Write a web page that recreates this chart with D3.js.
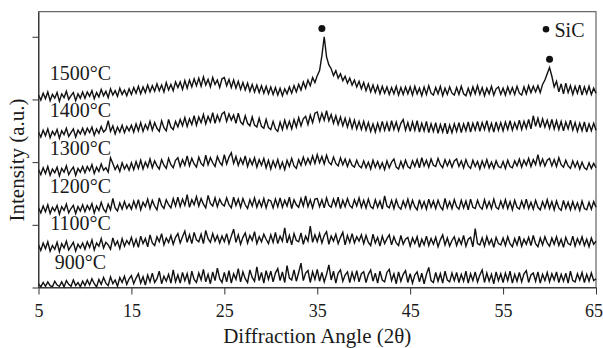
<!DOCTYPE html>
<html>
<head>
<meta charset="utf-8">
<script src="https://cdn.jsdelivr.net/npm/d3@7"></script>
<style>
  body { margin: 0; background: #fff; }
  text { font-family: "Liberation Serif", "Times New Roman", serif; fill: #1a1a1a; }
</style>
</head>
<body>
<script>
// XRD patterns, 2θ from 5 to 65 in 0.25 steps, stacked intensities (a.u.)
const labels = ["900°C", "1100°C", "1200°C", "1300°C", "1400°C", "1500°C"];
const xTicks = [5, 15, 25, 35, 45, 55, 65];
const yTicks = [0, 100, 200, 300, 400];
const startAngle = 5, stepAngle = 0.25;

const c900 = [
  6, 1, 8, 2, 9, 3, 1, 10, 4, 2, 9, 1, 11, 5, 2, 12, 3, 8, 1, 10,
  3, 12, 4, 14, 6, 1, 13, 5, 16, 7, 3, 17, 6, 12, 2, 16, 8, 18, 5, 14,
  19, 6, 15, 22, 7, 17, 4, 20, 9, 23, 8, 14, 26, 6, 18, 10, 21, 7, 28, 9,
  20, 7, 24, 11, 22, 5, 26, 13, 8, 23, 12, 29, 9, 21, 6, 25, 11, 31, 14, 8,
  24, 9, 27, 7, 22, 13, 30, 9, 25, 14, 8, 28, 16, 10, 33, 11, 24, 7, 27, 13,
  26, 9, 23, 30, 11, 25, 8, 35, 15, 12, 28, 10, 24, 39, 11, 23, 27, 8, 25, 13,
  29, 10, 24, 9, 21, 36, 12, 26, 7, 23, 28, 10, 20, 25, 8, 24, 12, 27, 9, 22,
  25, 8, 21, 28, 10, 23, 7, 26, 12, 9, 24, 29, 11, 22, 6, 25, 10, 21, 27, 8,
  22, 7, 20, 25, 9, 23, 6, 21, 32, 11, 8, 24, 10, 22, 7, 26, 12, 9, 23, 11,
  24, 8, 21, 10, 26, 7, 22, 11, 25, 9, 20, 28, 8, 23, 10, 21, 6, 25, 11, 22,
  8, 23, 11, 26, 7, 21, 10, 24, 9, 22, 27, 8, 20, 23, 10, 25, 7, 21, 11, 24,
  9, 22, 12, 25, 8, 21, 10, 23, 7, 26, 11, 9, 22, 12, 24, 8, 21, 10, 23, 11,
  14
];

const c1100 = [
  68, 59, 71, 62, 73, 58, 67, 61, 72, 57, 70, 63, 74, 60, 66, 72, 58, 69, 63, 71,
  61, 73, 64, 76, 60, 71, 66, 78, 63, 72, 68, 61, 79, 67, 74, 62, 78, 66, 75, 69,
  80, 66, 77, 64, 82, 70, 78, 65, 84, 71, 67, 81, 73, 86, 68, 79, 72, 83, 69, 80,
  86, 71, 81, 90, 72, 84, 70, 88, 76, 73, 85, 70, 91, 78, 72, 86, 74, 83, 71, 82,
  73, 86, 70, 82, 93, 72, 84, 69, 80, 87, 71, 83, 75, 89, 70, 81, 73, 85, 77, 70,
  84, 72, 88, 70, 82, 74, 95, 71, 83, 68, 86, 75, 73, 87, 69, 82, 74, 98, 72, 84,
  73, 86, 71, 83, 89, 69, 82, 74, 85, 70, 80, 88, 68, 83, 72, 86, 71, 81, 74, 84,
  70, 83, 72, 67, 85, 71, 80, 66, 82, 70, 78, 84, 68, 81, 71, 67, 83, 69, 77, 80,
  66, 79, 70, 81, 64, 77, 68, 82, 67, 78, 69, 80, 65, 76, 84, 68, 79, 66, 75, 81,
  67, 78, 69, 83, 66, 77, 80, 65, 94, 70, 68, 79, 66, 81, 69, 77, 64, 80, 70, 68,
  79, 67, 81, 70, 65, 78, 68, 82, 66, 77, 69, 80, 67, 83, 70, 65, 79, 68, 81, 71,
  66, 79, 69, 81, 67, 77, 64, 80, 70, 68, 82, 66, 78, 69, 81, 67, 77, 65, 79, 69,
  74
];

const c1200 = [
  127, 119, 130, 121, 132, 118, 128, 122, 131, 117, 129, 123, 133, 119, 126, 131, 118, 129, 122, 132,
  121, 131, 124, 134, 119, 130, 123, 136, 125, 120, 133, 124, 142, 127, 122, 135, 125, 137, 126, 133,
  125, 138, 127, 140, 124, 136, 129, 141, 126, 139, 130, 124, 143, 131, 126, 140, 132, 127, 142, 130,
  144, 129, 141, 131, 148, 128, 140, 132, 145, 130, 142, 133, 127, 147, 134, 130, 143, 129, 141, 133,
  130, 143, 132, 127, 144, 131, 141, 128, 142, 132, 126, 140, 130, 143, 128, 139, 129, 142, 127, 140,
  138, 127, 141, 129, 143, 128, 139, 130, 144, 126, 140, 132, 128, 142, 130, 146, 129, 140, 127, 141,
  142, 129, 140, 127, 143, 131, 128, 141, 130, 144, 126, 139, 129, 142, 131, 127, 140, 130, 143, 128,
  139, 127, 141, 129, 126, 140, 128, 138, 125, 146, 130, 127, 139, 126, 140, 129, 125, 138, 128, 141,
  126, 139, 129, 124, 140, 127, 137, 125, 141, 128, 138, 126, 139, 129, 124, 142, 127, 137, 126, 140,
  129, 125, 139, 127, 138, 124, 141, 128, 126, 139, 129, 125, 140, 127, 137, 126, 141, 128, 125, 138,
  127, 140, 126, 137, 124, 139, 128, 125, 138, 127, 141, 126, 136, 125, 139, 128, 124, 137, 127, 140,
  126, 137, 124, 138, 127, 123, 139, 126, 136, 124, 137, 125, 135, 123, 138, 126, 124, 136, 125, 137,
  128
];

const c1300 = [
  188, 180, 191, 182, 193, 179, 189, 183, 192, 178, 190, 184, 194, 180, 187, 192, 179, 190, 184, 193,
  183, 193, 186, 196, 182, 192, 185, 197, 187, 191, 184, 207, 198, 188, 195, 185, 199, 189, 196, 187,
  199, 188, 201, 190, 203, 189, 200, 192, 205, 191, 202, 194, 189, 204, 195, 190, 206, 196, 191, 203,
  207, 193, 204, 195, 210, 194, 206, 197, 192, 208, 198, 194, 211, 196, 207, 199, 193, 209, 200, 195,
  212, 197, 208, 215, 198, 209, 195, 206, 197, 210, 193, 205, 196, 207, 192, 204, 195, 206, 191, 203,
  189, 202, 192, 204, 190, 200, 188, 203, 193, 206, 194, 190, 204, 195, 208, 196, 206, 197, 210, 198,
  212, 199, 209, 197, 211, 200, 196, 208, 198, 194, 207, 196, 205, 193, 204, 195, 192, 203, 194, 191,
  202, 191, 200, 189, 203, 192, 201, 190, 199, 188, 202, 191, 200, 205, 192, 189, 201, 191, 203, 193,
  190, 202, 193, 204, 191, 207, 194, 203, 192, 205, 195, 193, 206, 196, 191, 204, 194, 203, 192, 202,
  205, 193, 202, 191, 204, 194, 190, 203, 193, 201, 189, 202, 192, 204, 191, 200, 190, 202, 193, 191,
  201, 190, 203, 193, 191, 202, 194, 205, 192, 203, 195, 206, 193, 204, 196, 212, 195, 205, 194, 203,
  206, 194, 204, 193, 207, 196, 192, 203, 194, 190, 202, 192, 201, 189, 200, 191, 188, 199, 190, 198,
  191
];

const c1400 = [
  248, 240, 251, 242, 253, 239, 249, 243, 252, 238, 250, 244, 254, 241, 247, 253, 240, 251, 245, 254,
  244, 254, 247, 256, 243, 253, 246, 257, 248, 252, 266, 249, 258, 245, 256, 248, 259, 247, 257, 250,
  259, 248, 261, 250, 263, 249, 260, 252, 265, 251, 263, 254, 249, 266, 255, 250, 268, 256, 252, 265,
  256, 268, 258, 271, 257, 269, 260, 274, 259, 272, 263, 276, 261, 273, 264, 279, 262, 275, 265, 277,
  280, 265, 277, 267, 275, 262, 278, 264, 260, 274, 262, 258, 272, 259, 256, 270, 257, 254, 268, 255,
  252, 265, 253, 249, 264, 252, 267, 254, 265, 253, 268, 256, 271, 258, 269, 273, 260, 275, 263, 278,
  280, 265, 278, 267, 282, 266, 276, 262, 274, 260, 272, 258, 270, 256, 269, 254, 267, 253, 265, 252,
  265, 251, 263, 249, 261, 248, 262, 250, 265, 251, 263, 249, 266, 252, 264, 250, 262, 268, 251, 263,
  249, 264, 251, 266, 248, 262, 250, 265, 247, 261, 249, 263, 246, 260, 248, 262, 245, 259, 247, 261,
  249, 263, 247, 261, 250, 264, 248, 262, 251, 265, 249, 263, 252, 266, 250, 262, 248, 264, 251, 263,
  250, 264, 252, 266, 251, 263, 253, 267, 252, 265, 254, 268, 253, 274, 257, 270, 255, 269, 256, 267,
  254, 268, 253, 266, 252, 265, 250, 264, 253, 267, 251, 263, 249, 262, 250, 264, 248, 261, 250, 262,
  251
];

const c1500 = [
  307, 299, 310, 301, 312, 298, 308, 302, 311, 297, 309, 303, 313, 300, 306, 311, 298, 309, 302, 312,
  302, 312, 305, 314, 301, 311, 304, 316, 306, 313, 303, 317, 307, 314, 305, 318, 308, 315, 306, 317,
  308, 319, 310, 321, 309, 320, 311, 323, 312, 322, 313, 325, 314, 323, 312, 327, 315, 324, 314, 328,
  319, 328, 316, 330, 318, 331, 320, 333, 322, 334, 321, 336, 323, 332, 320, 335, 324, 331, 319, 333,
  335, 322, 332, 319, 331, 318, 329, 316, 327, 315, 326, 313, 324, 312, 323, 311, 322, 310, 321, 309,
  320, 308, 319, 307, 318, 306, 317, 309, 320, 310, 322, 312, 324, 315, 328, 318, 331, 322, 335, 327,
  338, 346, 370, 400, 368, 355, 349, 338, 346, 334, 341, 330, 337, 326, 334, 323, 331, 320, 329, 317,
  327, 314, 325, 312, 323, 311, 322, 309, 321, 310, 320, 308, 319, 309, 321, 307, 319, 308, 320, 309,
  320, 307, 321, 309, 318, 306, 320, 308, 322, 310, 307, 319, 309, 321, 306, 318, 308, 320, 310, 307,
  319, 308, 321, 309, 306, 318, 307, 320, 309, 322, 308, 319, 306, 318, 309, 321, 307, 317, 320, 308,
  318, 307, 320, 309, 319, 308, 321, 310, 307, 320, 309, 322, 311, 321, 312, 322, 311, 324, 331, 341,
  351, 337, 320, 329, 312, 325, 309, 326, 311, 322, 308, 321, 310, 323, 307, 320, 309, 321, 308, 318,
  310
];

const series = [c900, c1100, c1200, c1300, c1400, c1500];

// SiC peak markers (2θ, intensity)
const peakAngles = [35.5, 60.0];
const peakHeights = [413, 364];

const W = 603, H = 348;
const margin = { top: 11.7, right: 7, bottom: 60.5, left: 38.5 };
const width = W - margin.left - margin.right;
const height = H - margin.top - margin.bottom;

const svg = d3.select("body").append("svg")
  .attr("width", W)
  .attr("height", H);

const g = svg.append("g")
  .attr("transform", "translate(" + margin.left + "," + margin.top + ")");

const x = d3.scaleLinear().domain([5, 65]).range([0, width]);
const y = d3.scaleLinear().domain([0, 440]).range([height, 0]);

// frame
g.append("rect")
  .attr("width", width)
  .attr("height", height)
  .attr("fill", "none")
  .attr("stroke", "#444")
  .attr("stroke-width", 1);

const line = d3.line()
  .x((d, i) => x(startAngle + i * stepAngle))
  .y(d => y(d));

g.selectAll("path.trace")
  .data(series)
  .join("path")
  .attr("class", "trace")
  .attr("d", line)
  .attr("fill", "none")
  .attr("stroke", "#111")
  .attr("stroke-width", 1.4)
  .attr("stroke-linejoin", "miter");

// temperature labels above each trace start
g.selectAll("text.temp")
  .data(series)
  .join("text")
  .attr("class", "temp")
  .attr("x", x(5) + 42)
  .attr("y", d => y(d[0]) - 15)
  .attr("text-anchor", "middle")
  .style("font-size", "20px")
  .text((d, i) => labels[i]);

// peak markers
g.selectAll("circle.peak")
  .data(peakAngles)
  .join("circle")
  .attr("class", "peak")
  .attr("cx", d => x(d))
  .attr("cy", (d, i) => y(peakHeights[i]))
  .attr("r", 3.5)
  .attr("fill", "#111");

// legend
const leg = g.append("g")
  .attr("transform", "translate(" + (width - 50) + "," + 17.5 + ")");
leg.append("circle").attr("r", 3.3).attr("fill", "#111");
leg.append("text")
  .attr("x", 8.5)
  .attr("y", 8)
  .style("font-size", "20px")
  .text("SiC");

// axes
const xAxis = g.append("g")
  .attr("transform", "translate(0," + height + ")")
  .call(d3.axisBottom(x).tickValues(xTicks).tickSize(7).tickSizeOuter(0).tickPadding(10));
xAxis.selectAll("text").style("font-size", "18px").attr("fill", "#1a1a1a")
  .attr("dx", d => d === 65 ? "-2.5px" : null);

const yAxis = g.append("g")
  .call(d3.axisLeft(y).tickValues(yTicks).tickSize(6).tickSizeOuter(0).tickFormat(""));

[xAxis, yAxis].forEach(a => {
  a.select(".domain").attr("stroke", "#333");
  a.selectAll(".tick line").attr("stroke", "#333");
  a.style("font-family", null);
});

svg.append("text")
  .attr("x", margin.left + width / 2)
  .attr("y", 343)
  .attr("text-anchor", "middle")
  .style("font-size", "21px")
  .text("Diffraction Angle (2θ)");

svg.append("text")
  .attr("transform", "translate(24," + 160 + ") rotate(-90)")
  .attr("text-anchor", "middle")
  .style("font-size", "21px")
  .text("Intensity (a.u.)");
</script>
</body>
</html>
